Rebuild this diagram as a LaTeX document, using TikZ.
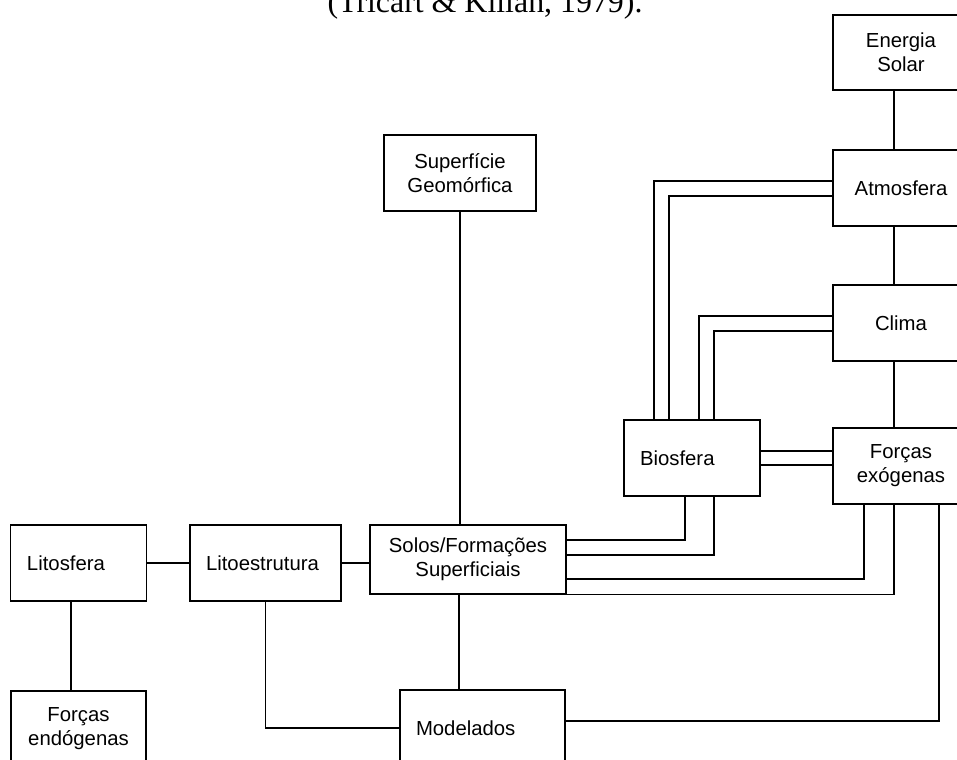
\documentclass[tikz,border=0pt]{standalone}
\usepackage{fontspec}
\setmainfont{Liberation Sans}
\newfontfamily\titlefont{Liberation Serif}
\usepackage{tikz}
\usetikzlibrary{positioning}
\tikzset{
    box/.style={
        draw,
        line width=1.4bp,
        minimum width=136bp,
        minimum height=76bp,
        inner sep=0pt,
        align=center,
        font=\fontsize{20.4}{24}\selectfont
    },
    % texto alinhado a esquerda dentro da caixa
    leftbox/.style={
        box,
        align=left,
        inner xsep=16bp
    },
    link/.style={
        line width=1.4bp,
        black
    }
}

\begin{document}
\begin{tikzpicture}[x=1bp,y=-1bp]
    \useasboundingbox (0,0) rectangle (957,760);
    \node[font=\titlefont\fontsize{32}{36}\selectfont,anchor=base] (fonte) at (485,13) {(Tricart \& Kilian, 1979).};

    \node[box,minimum height=75bp] (solar) at (901,52.5) {Energia\\Solar};
    \node[box] (atmos) at (901,188) {Atmosfera};
    \node[box] (clima) at (901,323) {Clima};
    \node[box] (exog) at (901,466) {Forças\\exógenas};
    \node[leftbox,text width=104bp] (bio) at (692,458) {Biosfera};
    \node[box,minimum width=152bp] (superf) at (460,173) {Superfície\\Geomórfica};
    \node[box,minimum width=196bp,minimum height=69bp] (solos) at (468,559.5) {Solos/Formações\\Superficiais};
    \node[leftbox,text width=103bp] (lito) at (78.5,563) {Litosfera};
    \node[leftbox,text width=119bp] (litoest) at (265.5,563) {Litoestrutura};
    \node[box,minimum width=135bp] (endog) at (78.5,729) {Forças\\endógenas};
    \node[leftbox,text width=133bp] (model) at (482.5,728) {Modelados};

    % coluna da direita
    \draw[link] ([xshift=-7bp]solar.south) -- ([xshift=-7bp]atmos.north);
    \draw[link] ([xshift=-7bp]atmos.south) -- ([xshift=-7bp]clima.north);
    \draw[link] ([xshift=-7bp]clima.south) -- ([xshift=-7bp]exog.north);

    \draw[link] ([yshift=7bp]atmos.west) -| ([xshift=-38bp]bio.north);
    \draw[link] ([yshift=-8bp]atmos.west) -| ([xshift=-23bp]bio.north);
    \draw[link] ([yshift=7bp]clima.west) -| ([xshift=7bp]bio.north);
    \draw[link] ([yshift=-8bp]clima.west) -| ([xshift=22bp]bio.north);

    \draw[link] ([yshift=7bp]bio.east) -- ([yshift=7bp]bio.east -| exog.west);
    \draw[link] ([yshift=-7bp]bio.east) -- ([yshift=-7bp]bio.east -| exog.west);

    \draw[link] ([xshift=-7bp]bio.south) |- ([yshift=19.5bp]solos.east);
    \draw[link] ([xshift=22bp]bio.south) |- ([yshift=4.5bp]solos.east);
    \draw[link] ([xshift=-37bp]exog.south) |- ([yshift=-19.5bp]solos.east);
    \draw[link] ([xshift=-7bp]exog.south) |- (solos.south east);
    \draw[link] ([yshift=7bp]model.east) -| ([xshift=38bp]exog.south);

    % centro e esquerda
    \draw[link] (superf.south) -- (superf.south |- solos.north);
    \draw[link] ([xshift=-9bp]solos.south) -- ([xshift=-9bp]solos.south |- model.north);
    \draw[link] (lito.east) -- (litoest.west);
    \draw[link] (litoest.east) -- (litoest.east -| solos.west);
    \draw[link] ([xshift=-7.5bp]lito.south) -- ([xshift=-7.5bp]endog.north);
    \draw[link] (litoest.south) |- (model.west);
\end{tikzpicture}
\end{document}
